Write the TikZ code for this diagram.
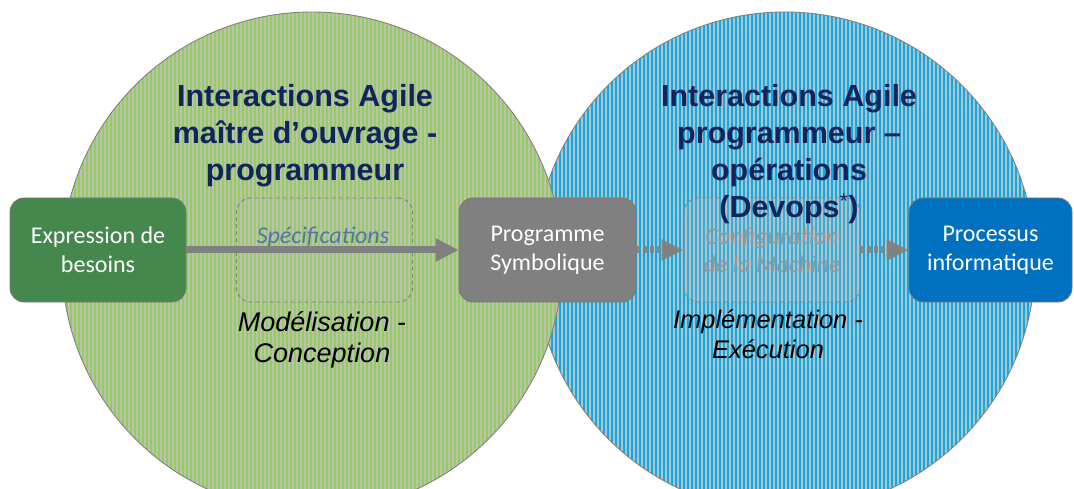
\documentclass[tikz,border=0pt]{standalone}
\usepackage{fontspec}
\setmainfont{Liberation Sans}
\newfontfamily\calfont{Carlito}
\usetikzlibrary{arrows.meta}
\definecolor{navy}{RGB}{16,36,94}
\definecolor{stripegray}{RGB}{190,190,190}
\definecolor{stripegreen}{RGB}{146,208,80}
\definecolor{stripeblue}{RGB}{0,176,240}
\definecolor{circedge}{RGB}{130,130,130}
\definecolor{boxedge}{RGB}{120,120,120}
\definecolor{darkgreenbox}{RGB}{68,136,78}
\definecolor{graybox}{RGB}{128,128,128}
\definecolor{bluebox}{RGB}{0,112,192}
\definecolor{spectext}{RGB}{84,118,160}
\definecolor{conftext}{RGB}{150,150,150}
\definecolor{arrowgray}{RGB}{128,128,128}
\begin{document}
\begin{tikzpicture}[x=1pt,y=-1pt,
  box/.style={rounded corners=14pt, minimum width=176pt, minimum height=104pt, inner sep=0pt,
    draw=boxedge, line width=0.8pt, text=white, align=center,
    font=\calfont\fontsize{24}{29}\selectfont},
  dbox/.style={rounded corners=14pt, minimum width=176pt, minimum height=104pt, inner sep=0pt,
    draw=gray, dash pattern=on 4pt off 3pt, line width=0.9pt, fill=gray!50, fill opacity=0.15,
    text opacity=1, align=center},
  titletext/.style={text=navy, align=center, inner sep=0pt, anchor=north,
    font=\bfseries\fontsize{30.5}{37}\selectfont},
  itext/.style={text=black, align=center, inner sep=0pt, anchor=north,
    font=\itshape\fontsize{27}{31.5}\selectfont},
  bigarrow/.style={draw=arrowgray, line width=7pt, -{Triangle[length=23pt,width=22pt]}},
  dotarrow/.style={draw=arrowgray, draw opacity=0.9, line width=7pt, dash pattern=on 4pt off 3pt,
    -{Triangle[length=22pt,width=20pt]}}
]
\useasboundingbox (0,0) rectangle (1074,489);
\clip (0,0) rectangle (1074,489);

% blue circle
\begin{scope}
  \clip (785,262) circle (250pt);
  \fill[stripegray] (785,262) circle (250pt);
  \foreach \x in {535,539,...,1035} \fill[stripeblue] (\x,0) rectangle ++(2,489);
\end{scope}
\draw[circedge, line width=0.9pt] (785,262) circle (250pt);

% green circle
\begin{scope}
  \clip (312,262) circle (250pt);
  \fill[stripegray] (312,262) circle (250pt);
  \foreach \x in {62,66,...,562} \fill[stripegreen] (\x,0) rectangle ++(2,489);
\end{scope}
\draw[circedge, line width=0.9pt] (312,262) circle (250pt);

% dashed boxes
\node[dbox] (spec) at (324.5,250) {};
\node[text=spectext, inner sep=0pt, font=\calfont\itshape\fontsize{24}{28}\selectfont] (spectxt) at (323,237) {Spécifications};
\node[dbox, fill opacity=0.22, minimum width=176pt, text=conftext, font=\calfont\itshape\fontsize{24}{28}\selectfont] (conf) at (772,250) {Configuration\\de la Machine};

% solid boxes
\node[box, fill=darkgreenbox] (expr) at (98,250) {Expression de\\besoins};
\node[box, fill=graybox, minimum width=177pt] (prog) at (547.5,250) {Programme\\Symbolique};
\node[box, fill=bluebox, minimum width=163pt] (proc) at (990.5,250) {Processus\\informatique};

% arrows
\draw[bigarrow] (expr) -- (prog);
\draw[dotarrow] (prog) -- (conf);
\draw[dotarrow] (conf) -- (proc);

% titles
\node[titletext] (t1) at (305,84) {Interactions Agile\\maître d’ouvrage -\\programmeur};
\node[titletext] (t2) at (789,84) {Interactions Agile\\programmeur –\\opérations\\(Devops\textsuperscript{\mdseries*})};

% italic labels
\node[itext] (m1) at (322,311) {Modélisation -\\Conception};
\node[itext, font=\itshape\fontsize{25.5}{30}\selectfont] (m2) at (768,310) {Implémentation -\\Exécution};
\end{tikzpicture}
\end{document}
